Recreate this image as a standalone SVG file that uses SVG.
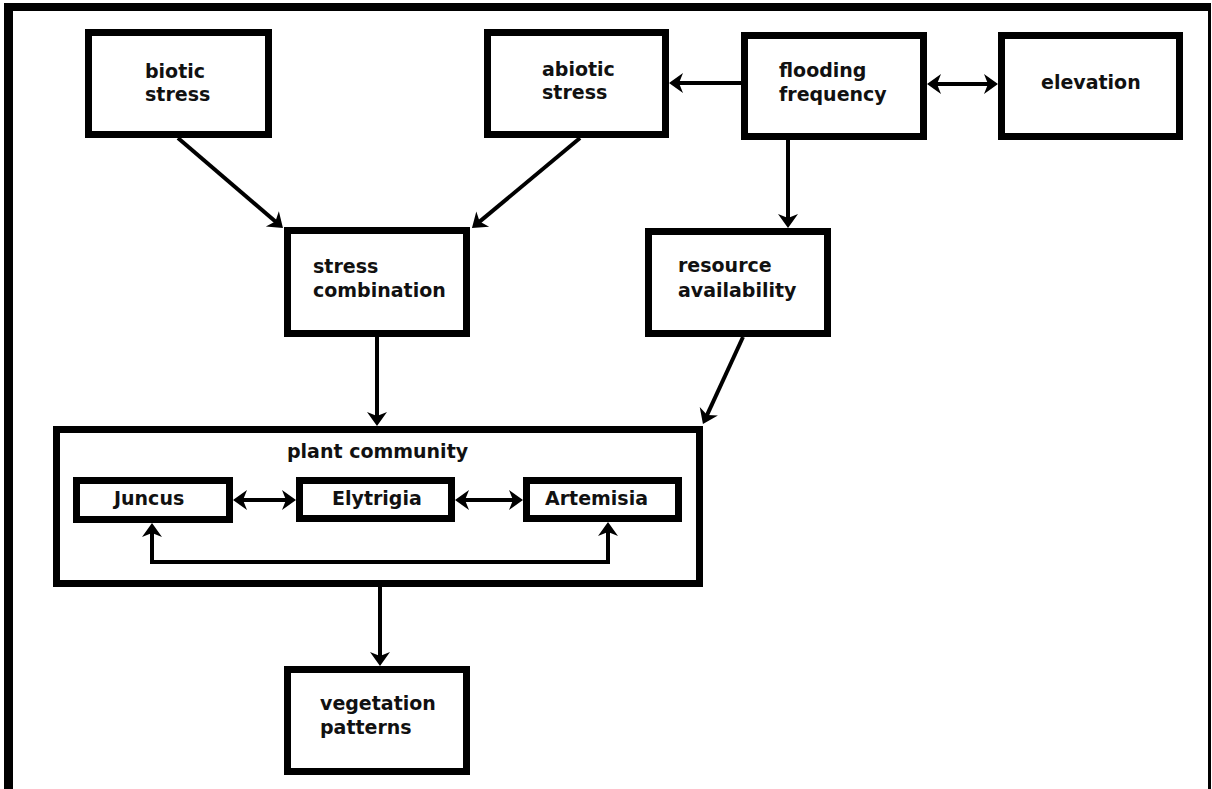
<svg xmlns="http://www.w3.org/2000/svg" width="1212" height="789" viewBox="0 0 1212 789">
<style>
.box{fill:#fff;stroke:#000;stroke-width:7}
.lbl{font-family:"DejaVu Sans","Verdana",sans-serif;font-weight:bold;font-size:19px;fill:#111}
.con{fill:none;stroke:#000;stroke-width:4}
</style>
<defs>
<marker id="ah" markerUnits="userSpaceOnUse" markerWidth="30" markerHeight="30" refX="0" refY="0" orient="auto-start-reverse" overflow="visible">
<path d="M8,0 L-6,-10 L-2,0 L-6,10 Z" fill="#000"/>
</marker>
</defs>
<rect width="1212" height="789" fill="#fff"/>
<g id="frame" stroke="#000" fill="none">
<line x1="4" y1="7" x2="1211" y2="7" stroke-width="8"/>
<line x1="8.5" y1="3" x2="8.5" y2="789" stroke-width="9"/>
<line x1="1209.5" y1="3" x2="1209.5" y2="789" stroke-width="3"/>
</g>
<g id="connectors">
<path class="con" d="M178,138 L276.9,222.8" marker-end="url(#ah)"/>
<path class="con" d="M580,138 L478.1,222.9" marker-end="url(#ah)"/>
<path class="con" d="M741,83 L677,83" marker-end="url(#ah)"/>
<path class="con" d="M935,84 L990,84" marker-start="url(#ah)" marker-end="url(#ah)"/>
<path class="con" d="M788,140 L788,220" marker-end="url(#ah)"/>
<path class="con" d="M377,337 L377,418" marker-end="url(#ah)"/>
<path class="con" d="M743,337 L706.3,416.7" marker-end="url(#ah)"/>
<path class="con" d="M241,500 L288,500" marker-start="url(#ah)" marker-end="url(#ah)"/>
<path class="con" d="M463,500 L515,500" marker-start="url(#ah)" marker-end="url(#ah)"/>
<path class="con" d="M152,531 V562 H608 V530" marker-start="url(#ah)" marker-end="url(#ah)"/>
<path class="con" d="M380,587 L380,658" marker-end="url(#ah)"/>
</g>
<g id="biotic-stress">
<rect class="box" x="88.5" y="32.5" width="180" height="102"/>
<text class="lbl" x="145" y="78">biotic</text>
<text class="lbl" x="145" y="101">stress</text>
</g>
<g id="abiotic-stress">
<rect class="box" x="487.5" y="32.5" width="178" height="102"/>
<text class="lbl" x="542" y="76">abiotic</text>
<text class="lbl" x="542" y="99">stress</text>
</g>
<g id="flooding-frequency">
<rect class="box" x="744.5" y="35.5" width="179" height="101"/>
<text class="lbl" x="779" y="77">flooding</text>
<text class="lbl" x="779" y="101">frequency</text>
</g>
<g id="elevation">
<rect class="box" x="1001.5" y="35.5" width="178" height="101"/>
<text class="lbl" x="1041" y="89">elevation</text>
</g>
<g id="stress-combination">
<rect class="box" x="287.5" y="230.5" width="179" height="103"/>
<text class="lbl" x="313" y="273">stress</text>
<text class="lbl" x="313" y="297">combination</text>
</g>
<g id="resource-availability">
<rect class="box" x="648.5" y="231.5" width="179" height="102"/>
<text class="lbl" x="678" y="272">resource</text>
<text class="lbl" x="678" y="297">availability</text>
</g>
<g id="plant-community">
<rect class="box" x="56.5" y="429.5" width="643" height="154" style="fill:none"/>
<text class="lbl" x="287" y="458">plant community</text>
</g>
<g id="juncus">
<rect class="box" x="76.5" y="480.5" width="153" height="39"/>
<text class="lbl" x="114" y="505">Juncus</text>
</g>
<g id="elytrigia">
<rect class="box" x="299.5" y="480.5" width="152" height="38"/>
<text class="lbl" x="332" y="505">Elytrigia</text>
</g>
<g id="artemisia">
<rect class="box" x="526.5" y="480.5" width="152" height="38"/>
<text class="lbl" x="545" y="505">Artemisia</text>
</g>
<g id="vegetation-patterns">
<rect class="box" x="287.5" y="669.5" width="179" height="102"/>
<text class="lbl" x="320" y="710">vegetation</text>
<text class="lbl" x="320" y="734">patterns</text>
</g>
</svg>
